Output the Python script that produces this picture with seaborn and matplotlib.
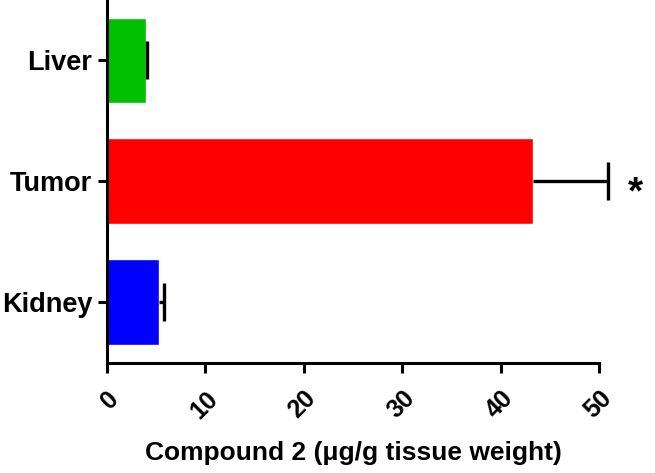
import matplotlib
matplotlib.use('Agg')
import pandas as pd
import seaborn as sns
import matplotlib.pyplot as plt

# Data
tissues = ['Liver', 'Tumor', 'Kidney']
conc = [4.0, 43.3, 5.3]
err_up = [0.05, 7.6, 0.5]
colors = ['#00c000', '#ff0000', '#0000ff']

df = pd.DataFrame({'Tissue': tissues, 'Conc': conc})

sns.set_style('ticks')
plt.rcParams['font.family'] = ['Liberation Sans', 'DejaVu Sans']
plt.rcParams['font.weight'] = 'bold'
for key in ['text.color', 'axes.labelcolor', 'xtick.color', 'ytick.color',
            'axes.edgecolor']:
    plt.rcParams[key] = 'black'

fig = plt.figure(figsize=(6.55, 4.73), dpi=100)
ax = fig.add_axes([0.163, 0.233, 0.752, 0.767])

sns.barplot(data=df, x='Conc', y='Tissue', hue='Tissue', palette=colors,
            orient='h', errorbar=None, width=0.71, legend=False, ax=ax,
            saturation=1)

# one-sided error bars (hide the lower caps)
eb = ax.errorbar(conc, range(len(tissues)), xerr=[[0] * len(err_up), err_up],
                 fmt='none', ecolor='black', elinewidth=2.4, capsize=14,
                 capthick=2.4, clip_on=False, zorder=5)
eb[1][0].set_visible(False)

# significance marker
ax.text(53.7, 1.18, '*', fontsize=28, fontweight='bold', ha='center',
        va='baseline', clip_on=False)

ax.set_xlim(0, 50)
ax.set_ylim(2.5, -0.5)
ax.set_xticks([0, 10, 20, 30, 40, 50])
ax.set_xlabel('Compound 2 (\u03bcg/g tissue weight)', fontsize=19,
              fontweight='bold', va='top')
ax.xaxis.set_label_coords(0.5, -0.215)
ax.set_ylabel('')

for s in ['top', 'right']:
    ax.spines[s].set_visible(False)
for s in ['left', 'bottom']:
    ax.spines[s].set_linewidth(2.2)

ax.tick_params(axis='y', length=6.5, width=2.2, pad=4, labelsize=19.5)
ax.tick_params(axis='x', length=7, width=2.2, pad=10, labelsize=18)
plt.setp(ax.get_xticklabels(), rotation=45, ha='right',
         rotation_mode='anchor', fontweight='bold')
plt.setp(ax.get_yticklabels(), fontweight='bold')

fig.savefig('out.png', dpi=100)
